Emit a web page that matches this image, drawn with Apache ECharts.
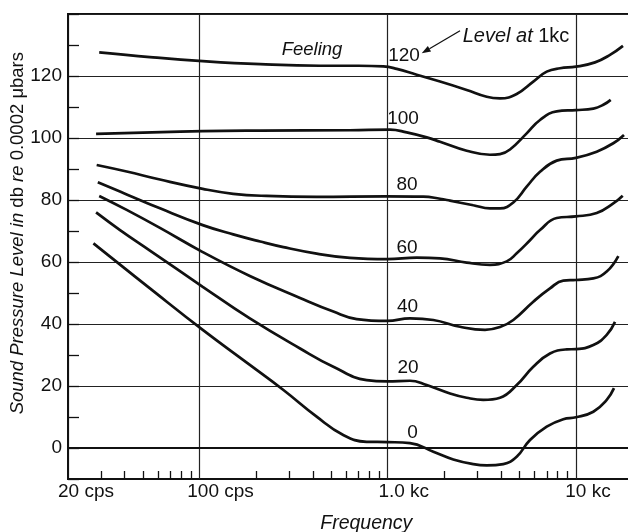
<!DOCTYPE html>
<html><head><meta charset="utf-8">
<script src="https://cdn.jsdelivr.net/npm/echarts@6/dist/echarts.min.js"></script>
<style>html,body{margin:0;padding:0;background:#fff}#c{width:628px;height:532px}</style>
</head><body><div id="c"></div>
<script>
const NUMFONT = "'Liberation Sans',Arial,sans-serif";
const WORDFONT = "'Liberation Sans',Arial,sans-serif";
const INK = '#111';

// x axis (frequency, cps) tick labels and minor ticks
const xTickValues = [20, 100, 1000, 10000];
const xTickLabels = ['20 cps', '100 cps', '1.0 kc', '10 kc'];
const xMinorTicks = [30,40,50,60,70,80,90,200,300,400,500,600,700,800,900,2000,3000,4000,5000,6000,7000,8000,9000];
// y axis (dB) labelled values
const yLabelValues = [0, 20, 40, 60, 80, 100, 120];

// equal-loudness contours: [frequency (cps), sound pressure level (db)]
const curve120 = [[29.3,127.6],[54.5,126.1],[104,124.8],[210,123.8],[437,123.3],[700,123.3],[947,123.1],[1116,122.3],[1425,120.4],[1896,118.2],[2627,115.5],[3356,113.3],[3950,112.8],[4844,114.2],[5933,118.2],[6993,121.4],[8230,122.5],[10000,123.0],[12627,124.4],[15170,126.8],[17780,129.7]];
const curve100 = [[28.2,101.3],[104,102.2],[210,102.4],[630,102.5],[1028,102.7],[1261,101.8],[1611,100.2],[1896,98.8],[2627,95.9],[3494,94.6],[3950,94.8],[4462,96.3],[5474,101.5],[6442,105.8],[7903,108.6],[10000,109.0],[12368,109.5],[13980,110.7],[15300,112.3]];
const curve80 = [[28.4,91.3],[41.0,89.2],[61.6,86.6],[104,83.6],[151,82.0],[227,81.3],[419,81.0],[980,81.2],[1545,81.1],[1896,80.4],[2142,79.8],[2849,78.3],[3494,77.3],[3950,77.3],[4647,79.2],[5474,84.3],[6442,89.1],[7903,92.7],[10000,93.6],[12893,95.6],[15790,98.3],[18000,101.0]];
const curve60 = [[28.8,85.7],[41.0,81.8],[61.6,77.3],[104,71.9],[151,68.9],[210,66.6],[279,64.8],[419,62.7],[630,61.3],[995,60.9],[1425,61.4],[1896,61.2],[2627,59.8],[3494,59.1],[4286,60.2],[4844,62.8],[5700,67.0],[6442,70.3],[7903,74.2],[10000,74.7],[12893,75.8],[15790,78.9],[17720,81.4]];
const curve40 = [[29.3,81.3],[41.0,76.8],[61.6,71.0],[104,63.2],[185,55.5],[342,48.4],[514,44.0],[684,41.6],[995,41.0],[1313,41.8],[1747,41.3],[2421,39.1],[3287,38.1],[3950,39.0],[4647,41.3],[5933,47.2],[7279,51.5],[8566,54.0],[10000,54.2],[12368,54.7],[14570,56.9],[16800,61.9]];
const curve20 = [[28.2,76.0],[37.8,70.3],[54.5,63.7],[104,52.0],[185,41.8],[342,32.1],[514,26.2],[773,21.9],[995,21.5],[1313,21.7],[1611,20.3],[2142,17.6],[2627,16.2],[3219,15.5],[3950,16.2],[4844,20.3],[5933,26.2],[7279,30.5],[8930,31.8],[10000,31.9],[12368,33.2],[14570,36.5],[16130,40.7]];
const curve0 = [[27.3,66.0],[54.5,51.5],[104,38.1],[185,26.8],[279,18.7],[419,10.1],[580,4.2],[773,2.0],[995,1.9],[1313,1.6],[1747,-1.2],[2230,-3.7],[2849,-5.2],[3356,-5.6],[4111,-5.2],[4844,-2.8],[5700,2.6],[6993,6.9],[8566,9.3],[10000,9.9],[12368,11.7],[14570,15.5],[15930,19.3]];
const curves = [curve120, curve100, curve80, curve60, curve40, curve20, curve0];

// "Level at 1kc" labels of each contour
const levelLabels = ['120', '100', '80', '60', '40', '20', '0'];
const levelLabelAnchors = [[1220,126.6],[1205,106.1],[1266,85.0],[1266,64.7],[1273,45.5],[1281,26.0],[1354,5.0]];
const feelingAnchor = [396, 128.4];
const levelNoteAnchor = [4803, 132.9];
const arrowFrom = [2421, 134.6];
const arrowTo = [1515, 127.3];
const yTitleAnchor = [20, 69.3];

const chart = echarts.init(document.getElementById('c'), null, {renderer: 'canvas'});

const xRich = {};
const xPads = [36, 42, 32, 24];
xTickLabels.forEach((t, i) => { xRich['l' + i] = {fontFamily: NUMFONT, fontSize: 19, color: INK, padding: [0, 0, 0, xPads[i]]}; });

const option = {
  animation: false,
  backgroundColor: '#fff',
  grid: {left: 68, top: 14, width: 564.6, height: 465, show: true, borderColor: INK, borderWidth: 2, outerBoundsMode: 'none', containLabel: false},
  xAxis: [{
    type: 'log', logBase: 10, min: 20, max: 20000, position: 'bottom',
    axisLine: {lineStyle: {color: INK, width: 2}},
    axisTick: {show: false},
    splitLine: {show: true, lineStyle: {color: '#222', width: 1.2}},
    axisLabel: {
      margin: 3, showMinLabel: true, showMaxLabel: false,
      formatter: v => { const i = xTickValues.indexOf(Math.round(v)); return i < 0 ? '' : '{l' + i + '|' + xTickLabels[i] + '}'; },
      rich: xRich
    },
    name: 'Frequency', nameLocation: 'middle', nameGap: 35,
    nameTextStyle: {fontFamily: WORDFONT, fontStyle: 'italic', fontSize: 19.5, color: INK, padding: [0, 0, 0, 32]}
  }, {
    type: 'value', min: Math.log10(20), max: Math.log10(20000), position: 'bottom', gridIndex: 0,
    axisLine: {show: false}, axisLabel: {show: false}, splitLine: {show: false},
    axisTick: {show: true, inside: true, length: 8, lineStyle: {color: INK, width: 1.3}, customValues: xMinorTicks.map(Math.log10)}
  }],
  yAxis: {
    type: 'value', min: -10, max: 140, interval: 10,
    axisLine: {show: true, lineStyle: {color: INK, width: 2}},
    axisTick: {show: true, inside: true, length: 11, lineStyle: {color: INK, width: 1.3}},
    splitLine: {show: true, lineStyle: {color: ['transparent', '#222'], width: 1.2}},
    axisLabel: {margin: 6, fontFamily: NUMFONT, fontSize: 19, color: INK,
      formatter: v => yLabelValues.indexOf(v) >= 0 ? String(v) : ''}
  },
  series: curves.map(c => ({
    type: 'line', data: c, xAxisIndex: 0, smooth: 0.45, showSymbol: false, silent: true,
    lineStyle: {color: INK, width: 2.7}
  }))
};
chart.setOption(option);

const px = p => chart.convertToPixel({xAxisIndex: 0, yAxisIndex: 0}, p);
const g = [];
levelLabels.forEach((t, i) => {
  const p = px(levelLabelAnchors[i]);
  g.push({type: 'text', x: p[0], y: p[1], style: {text: t, font: '19px ' + NUMFONT, fill: INK, align: 'center', verticalAlign: 'middle'}});
});
const pf = px(feelingAnchor);
g.push({type: 'text', x: pf[0], y: pf[1], style: {text: 'Feeling', font: 'italic 18.5px ' + WORDFONT, fill: INK, align: 'center', verticalAlign: 'middle'}});
const pl = px(levelNoteAnchor);
g.push({type: 'text', x: pl[0], y: pl[1], style: {text: '{i|Level at }{n|1kc}', align: 'center', verticalAlign: 'middle',
  rich: {i: {fontFamily: WORDFONT, fontStyle: 'italic', fontSize: 20, fill: INK}, n: {fontFamily: WORDFONT, fontSize: 20, fill: INK}}}});
const a0 = px(arrowFrom), a1 = px(arrowTo);
const dx = a1[0] - a0[0], dy = a1[1] - a0[1], L = Math.hypot(dx, dy), ux = dx / L, uy = dy / L;
const hl = 9, hw = 3.2;
const base = [a1[0] - ux * hl, a1[1] - uy * hl];
g.push({type: 'line', shape: {x1: a0[0], y1: a0[1], x2: base[0], y2: base[1]}, style: {stroke: INK, lineWidth: 1.3}});
g.push({type: 'polygon', shape: {points: [a1, [base[0] - uy * hw, base[1] + ux * hw], [base[0] + uy * hw, base[1] - ux * hw]]}, style: {fill: INK}});
// y axis title, centred in the left margin
const yMid = px(yTitleAnchor)[1];
g.push({type: 'text', x: 18, y: yMid, rotation: Math.PI / 2, style: {
  text: '{i|Sound Pressure Level in }{n|db }{i|re }{n|0.0002 \u03bcbars}', align: 'center', verticalAlign: 'middle',
  rich: {i: {fontFamily: WORDFONT, fontStyle: 'italic', fontSize: 18.5, fill: INK}, n: {fontFamily: WORDFONT, fontSize: 18.5, fill: INK}}}});
chart.setOption({graphic: g});
</script></body></html>
